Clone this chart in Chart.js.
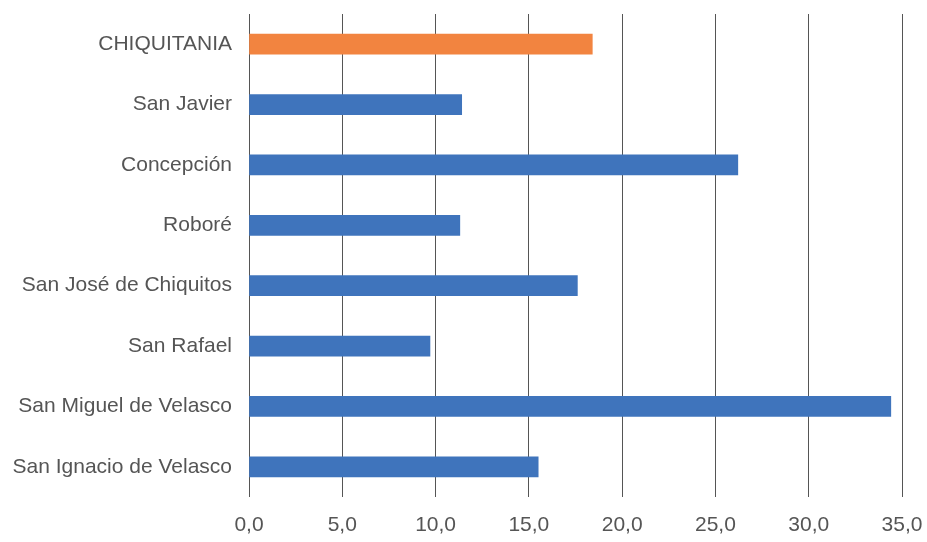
<!DOCTYPE html>
<html>
<head>
<meta charset="utf-8">
<script src="https://cdn.jsdelivr.net/npm/chart.js@4/dist/chart.umd.min.js"></script>
<style>
  html, body { margin: 0; padding: 0; background: #fff; }
  #wrap { width: 927px; height: 542px; }
</style>
</head>
<body>
<div id="wrap"><canvas id="grafico"></canvas></div>
<script>
const municipios = [
  "CHIQUITANIA",
  "San Javier",
  "Concepción",
  "Roboré",
  "San José de Chiquitos",
  "San Rafael",
  "San Miguel de Velasco",
  "San Ignacio de Velasco",
];
const valores = [18.4, 11.4, 26.2, 11.3, 17.6, 9.7, 34.4, 15.5];
const coresBarras = ["#F28440", "#3F74BC", "#3F74BC", "#3F74BC", "#3F74BC", "#3F74BC", "#3F74BC", "#3F74BC"];

function formatarTick(valor) {
  return valor.toFixed(1).replace(".", ",");
}

const fonte = { family: "Liberation Sans, Arial, sans-serif", size: 21 };

const ctx = document.getElementById("grafico").getContext("2d");
const grafico = new Chart(ctx, {
  type: "bar",
  data: {
    labels: municipios,
    datasets: [
      {
        data: valores,
        backgroundColor: coresBarras,
        barThickness: 20,
      },
    ],
  },
  options: {
    indexAxis: "y",
    responsive: true,
    maintainAspectRatio: false,
    animation: false,
    layout: { padding: { top: 14, right: 25, left: 8, bottom: 2 } },
    plugins: {
      legend: { display: false },
      tooltip: { enabled: false },
    },
    scales: {
      x: {
        min: 0,
        max: 35,
        ticks: {
          stepSize: 5,
          callback: (v) => formatarTick(v),
          color: "#555",
          font: fonte,
          padding: 16,
        },
        grid: { color: "#555", lineWidth: 1, drawTicks: false },
        border: { display: false },
        afterFit: (escala) => {
          escala.paddingLeft = 0;
          escala.paddingRight = 0;
          escala.height = 43;
        },
      },
      y: {
        ticks: {
          color: "#555",
          font: fonte,
          padding: 17,
        },
        grid: { display: false, drawTicks: false },
        border: { display: false },
        afterFit: (escala) => {
          escala.paddingTop = 0;
          escala.paddingBottom = 0;
          escala.width = 241;
        },
      },
    },
  },
});
</script>
</body>
</html>
